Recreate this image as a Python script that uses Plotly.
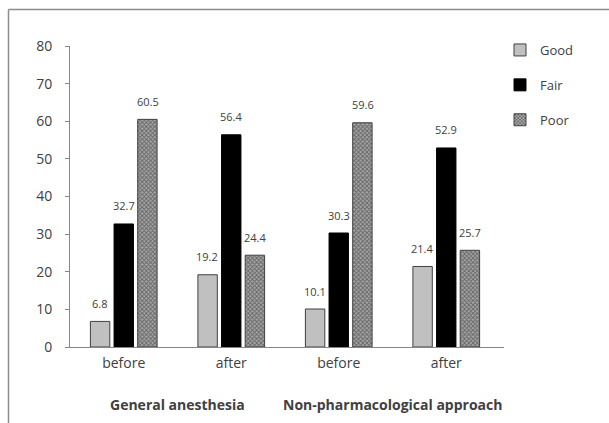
import plotly.graph_objects as go

# ---- data ----
groups = ["General anesthesia", "Non-pharmacological approach"]
times = ["before", "after"]
series_names = ["Good", "Fair", "Poor"]
good = [6.8, 19.2, 10.1, 21.4]
fair = [32.7, 56.4, 30.3, 52.9]
poor = [60.5, 24.4, 59.6, 25.7]
y_ticks = [0, 10, 20, 30, 40, 50, 60, 70, 80]

# category keys (unique) and their displayed labels
cat_keys = [f"{g}|{t}" for g in groups for t in times]
cat_labels = [t for g in groups for t in times]

W, H = 609, 423
ML, MR, MT, MB = 70, 105, 46, 76
plot_w = W - ML - MR
plot_h = H - MT - MB
BARGAP = 0.34
BARGROUPGAP = 0.18

TXT = "#404040"
AXC = "#868686"
FONT = "Open Sans"

styles = [
    dict(color="#c0c0c0", line=dict(color="#404040", width=1)),
    dict(color="#000000", line=dict(color="#000000", width=1)),
    dict(color="#808080", line=dict(color="#404040", width=1),
         pattern=dict(shape="x", size=3, solidity=0.5, fgcolor="#1e1e1e", bgcolor="#a8a8a8")),
]

fig = go.Figure()
all_vals = [good, fair, poor]
for i, (name, vals) in enumerate(zip(series_names, all_vals)):
    fig.add_trace(go.Bar(
        x=cat_keys, y=vals, name=name, marker=styles[i],
        legendgroup=name, hoverinfo="x+y",
    ))

# value labels above bars
cat_px = plot_w / len(cat_keys)
slot_px = cat_px * (1 - BARGAP) / len(series_names)
for i, vals in enumerate(all_vals):
    shift = (i - (len(series_names) - 1) / 2) * slot_px
    for k, v in zip(cat_keys, vals):
        fig.add_annotation(x=k, y=v, xref="x", yref="y", text=f"{v:.1f}",
                           showarrow=False, xshift=shift, yshift=18,
                           yanchor="middle",
                           font=dict(family=FONT, size=11, color=TXT))

# group labels under each pair of categories
for gi, g in enumerate(groups):
    idx = [j for j, k in enumerate(cat_keys) if k.startswith(g + "|")]
    fig.add_annotation(x=sum(idx) / len(idx), xref="x", y=-0.192, yref="paper",
                       text=f"<b>{g}</b>", showarrow=False, yanchor="middle",
                       font=dict(family=FONT, size=14, color=TXT))

# outer frame (top edge and left edge; right/bottom run off the picture)
x_left = (8.5 - ML) / plot_w
x_right = (W - ML) / plot_w
y_top = (H - MB - 9.5) / plot_h
y_bottom = (H - MB - H) / plot_h
frame_line = dict(color="#8c8c8c", width=1.5)
fig.add_shape(type="line", xref="paper", yref="paper",
              x0=x_left, x1=x_right, y0=y_top, y1=y_top, line=frame_line)
fig.add_shape(type="line", xref="paper", yref="paper",
              x0=x_left, x1=x_left, y0=y_bottom, y1=y_top, line=frame_line)

fig.update_layout(
    width=W, height=H, autosize=False,
    margin=dict(l=ML, r=MR, t=MT, b=MB),
    paper_bgcolor="white", plot_bgcolor="white",
    barmode="group", bargap=BARGAP, bargroupgap=BARGROUPGAP,
    font=dict(family=FONT, color=TXT),
    showlegend=True,
    legend=dict(x=(500 - ML) / plot_w, xanchor="left",
                y=(H - MB - 35) / plot_h, yanchor="top",
                font=dict(family=FONT, size=13, color=TXT),
                tracegroupgap=15, bgcolor="rgba(0,0,0,0)"),
    xaxis=dict(type="category", tickvals=cat_keys, ticktext=cat_labels,
               showline=True, linecolor=AXC, linewidth=1, ticks="",
               showgrid=False, zeroline=False, ticklabelstandoff=3,
               tickfont=dict(family=FONT, size=14, color=TXT)),
    yaxis=dict(range=[0, 80], tickvals=y_ticks, showline=True, linecolor=AXC,
               linewidth=1, ticks="outside", ticklen=4, tickcolor=AXC,
               showgrid=False, zeroline=False, ticklabelstandoff=10,
               tickfont=dict(family=FONT, size=14, color=TXT)),
)

fig.write_html("out.html", config={"displayModeBar": False},
               post_script="document.body.style.margin='0';document.body.style.overflow='hidden';")
